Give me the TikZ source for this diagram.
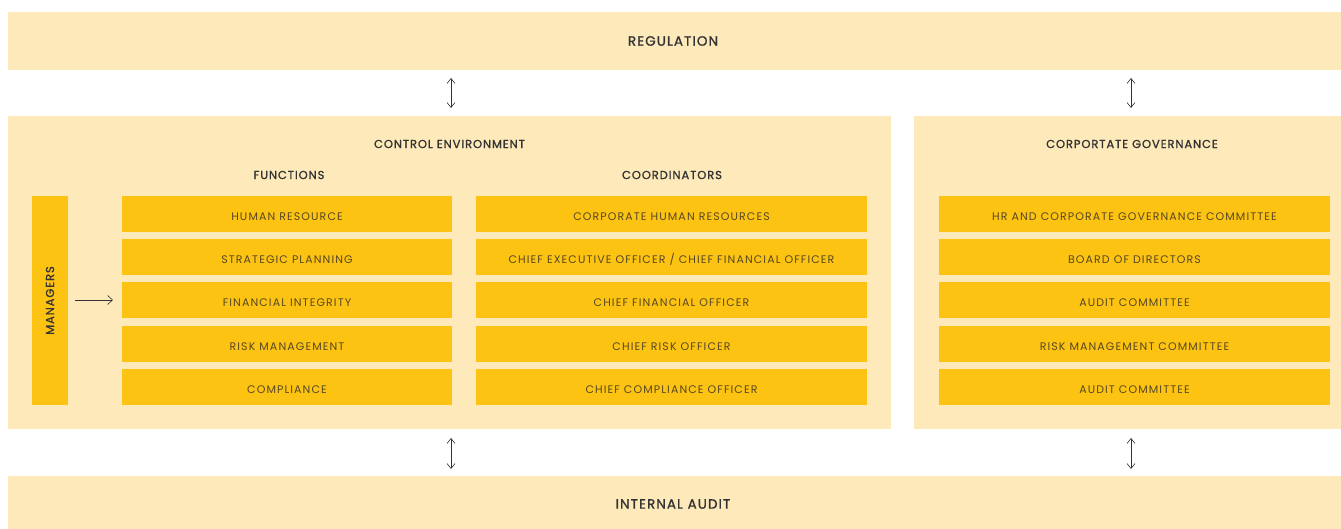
\documentclass[tikz,border=0pt]{standalone}
\usepackage{fontspec}
\setmainfont{Poppins}
\newfontfamily\labelfont{Poppins}[LetterSpace=10]
\newfontfamily\headfont{Poppins}[LetterSpace=8, FakeBold=1.2]
\usetikzlibrary{arrows.meta}
\definecolor{panelcol}{HTML}{FEE9BA}
\definecolor{boxcol}{HTML}{FDC313}
\definecolor{labelcol}{HTML}{574823}
\definecolor{headcol}{HTML}{333333}
\tikzset{
  panel/.style={fill=panelcol, draw=none},
  itembox/.style={fill=boxcol, draw=none, inner sep=0pt, minimum height=36pt,
    text height=12.5pt, text depth=0pt,
    text=labelcol, font=\labelfont\fontsize{11}{13}\selectfont},
  bigtitle/.style={text=headcol, font=\headfont\fontsize{13.5}{16}\selectfont},
  subtitle/.style={text=headcol, font=\headfont\fontsize{11.5}{13}\selectfont},
  dblarrow/.style={draw=headcol, line width=0.6pt,
    {Straight Barb[length=5pt,width=8pt]}-{Straight Barb[length=5pt,width=8pt]}},
  onearrow/.style={draw=headcol, line width=0.6pt,
    -{Straight Barb[length=5pt,width=9pt]}}
}
\begin{document}
\begin{tikzpicture}[x=1pt,y=-1pt]
\useasboundingbox (0,0) rectangle (1341,529);

% outer bands and panels
\fill[panel] (8,12) rectangle (1341,70);
\fill[panel] (8,116) rectangle (891,429);
\fill[panel] (914,116) rectangle (1341,429);
\fill[panel] (8,476) rectangle (1341,529);

\node[bigtitle] (reg) at (673,41) {REGULATION};
\node[bigtitle] (audit) at (673,504) {INTERNAL AUDIT};

\node[subtitle] (ctrl) at (449.5,144) {CONTROL ENVIRONMENT};
\node[subtitle] (gov) at (1132,144) {CORPORTATE GOVERNANCE};
\node[subtitle] (fun) at (289,175) {FUNCTIONS};
\node[subtitle] (coord) at (672,175) {COORDINATORS};

% managers column
\node[itembox, minimum width=36pt, minimum height=209pt] (mgr) at (50,300.5) {};
\node[subtitle, rotate=90] (mgrtext) at (mgr.center) {MANAGERS};

% functions
\foreach \n/\y/\t in {1/214/HUMAN RESOURCE, 2/257/STRATEGIC PLANNING,
    3/300/FINANCIAL INTEGRITY, 4/344/RISK MANAGEMENT, 5/387/COMPLIANCE}
  \node[itembox, minimum width=330pt] (f\n) at (287,\y) {\t};

% coordinators
\foreach \n/\y/\t in {1/214/{CORPORATE HUMAN RESOURCES},
    2/257/{CHIEF EXECUTIVE OFFICER / CHIEF FINANCIAL OFFICER},
    3/300/{CHIEF FINANCIAL OFFICER}, 4/344/{CHIEF RISK OFFICER},
    5/387/{CHIEF COMPLIANCE OFFICER}}
  \node[itembox, minimum width=391pt] (c\n) at (671.5,\y) {\t};

% governance bodies
\foreach \n/\y/\t in {1/214/{HR AND CORPORATE GOVERNANCE COMMITTEE},
    2/257/{BOARD OF DIRECTORS}, 3/300/{AUDIT COMMITTEE},
    4/344/{RISK MANAGEMENT COMMITTEE}, 5/387/{AUDIT COMMITTEE}}
  \node[itembox, minimum width=391pt] (g\n) at (1134.5,\y) {\t};

% connectors
\coordinate (ua1) at (451,78);  \coordinate (ua2) at (451,108);
\coordinate (ub1) at (1131,78); \coordinate (ub2) at (1131,108);
\coordinate (la1) at (451,438); \coordinate (la2) at (451,469);
\coordinate (lb1) at (1131,438);\coordinate (lb2) at (1131,469);
\draw[dblarrow] (ua1) -- (ua2);
\draw[dblarrow] (ub1) -- (ub2);
\draw[dblarrow] (la1) -- (la2);
\draw[dblarrow] (lb1) -- (lb2);

\coordinate (mgrout) at (75,300);
\draw[onearrow] (mgrout) -- (f3.west -| 113,0);
\end{tikzpicture}
\end{document}
